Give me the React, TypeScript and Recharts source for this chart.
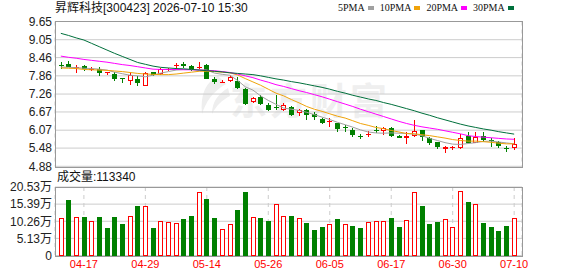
import React from 'react'
import { ComposedChart, Bar, Line, XAxis, YAxis, CartesianGrid } from 'recharts'

const dates = [
  '04-14', '04-15', '04-16', '04-17', '04-20', '04-21', '04-22', '04-23', '04-24', '04-27',
  '04-28', '04-29', '04-30', '05-06', '05-07', '05-08', '05-11', '05-12', '05-13', '05-14',
  '05-15', '05-18', '05-19', '05-20', '05-21', '05-22', '05-25', '05-26', '05-27', '05-28',
  '05-29', '06-01', '06-02', '06-03', '06-04', '06-05', '06-08', '06-09', '06-10', '06-11',
  '06-12', '06-15', '06-16', '06-17', '06-18', '06-22', '06-23', '06-24', '06-25', '06-26',
  '06-29', '06-30', '07-01', '07-02', '07-03', '07-06', '07-07', '07-08', '07-09', '07-10',
]
const opens = [
  8.22, 8.26, 8.14, 8.19, 8.06, 8.10, 7.97, 7.92, 7.79, 7.69,
  7.77, 7.52, 7.97, 7.91, 8.08, 8.19, 8.24, 8.17, 8.12, 8.22,
  7.75, 7.66, 7.69, 7.70, 7.43, 7.00, 7.16, 6.91, 6.84, 6.72,
  6.83, 6.61, 6.75, 6.59, 6.45, 6.35, 6.30, 6.19, 6.08, 5.88,
  5.92, 6.07, 6.03, 6.14, 5.89, 5.84, 5.86, 6.06, 5.82, 5.67,
  5.48, 5.51, 5.49, 5.89, 5.67, 5.88, 5.74, 5.67, 5.49, 5.49,
]
const highs = [
  8.32, 8.34, 8.21, 8.22, 8.14, 8.14, 8.00, 7.99, 7.79, 7.97,
  7.85, 8.00, 7.99, 8.13, 8.13, 8.27, 8.30, 8.21, 8.32, 8.25,
  7.82, 7.72, 7.88, 7.81, 7.45, 7.16, 7.24, 6.96, 7.22, 6.96,
  6.88, 6.78, 6.76, 6.67, 6.47, 6.47, 6.31, 6.23, 6.14, 5.95,
  6.03, 6.22, 6.17, 6.16, 5.91, 6.00, 6.39, 6.07, 5.83, 5.67,
  5.54, 5.56, 5.96, 6.02, 6.00, 6.00, 5.80, 5.70, 5.55, 5.80,
]
const lows = [
  8.10, 8.14, 7.96, 8.02, 8.02, 7.86, 7.90, 7.69, 7.61, 7.57,
  7.52, 7.52, 7.87, 7.88, 8.01, 8.07, 8.12, 8.03, 8.07, 7.75,
  7.60, 7.62, 7.66, 7.42, 6.90, 6.98, 6.89, 6.70, 6.72, 6.69,
  6.53, 6.53, 6.39, 6.42, 6.28, 6.17, 6.00, 6.00, 5.84, 5.79,
  5.84, 5.98, 5.92, 5.85, 5.80, 5.62, 5.84, 5.72, 5.59, 5.45,
  5.31, 5.42, 5.46, 5.64, 5.64, 5.69, 5.53, 5.48, 5.34, 5.42,
]
const closes = [
  8.18, 8.16, 8.16, 8.09, 8.10, 7.98, 7.98, 7.74, 7.75, 7.90,
  7.63, 7.94, 7.88, 8.07, 8.10, 8.21, 8.16, 8.08, 8.14, 7.77,
  7.65, 7.67, 7.82, 7.47, 6.93, 7.13, 6.94, 6.75, 6.83, 6.89,
  6.55, 6.72, 6.58, 6.48, 6.33, 6.36, 6.11, 6.15, 5.93, 5.87,
  5.93, 6.06, 6.14, 5.89, 5.84, 5.89, 6.04, 5.84, 5.67, 5.51,
  5.53, 5.52, 5.82, 5.67, 5.86, 5.76, 5.72, 5.54, 5.47, 5.63,
]
const volumes = [
  113300, 167200, 115400, 115400, 103400, 115400, 83300, 115400, 94400, 118400,
  148400, 148400, 83300, 103400, 100400, 98300, 109400, 118400, 191200, 170200,
  113300, 79400, 94400, 137300, 191200, 115400, 113300, 103400, 154300, 118400,
  118400, 111500, 97400, 76400, 85400, 93500, 109400, 93500, 88400, 82400,
  99500, 102500, 102500, 112400, 85400, 105500, 189400, 148400, 94400, 100400,
  108500, 84500, 192400, 160300, 153400, 97400, 85400, 73400, 88400, 113340,
]
const volUp = [
  true, false, true, false, true, false, false, false, false, true,
  false, true, false, true, true, true, false, false, true, false,
  false, true, true, false, false, true, false, false, true, true,
  false, true, false, false, false, true, false, true, false, false,
  true, true, true, false, false, true, true, false, false, false,
  true, true, true, false, true, false, false, false, false, true,
]
const ma5 = [
  8.15, 8.14, 8.13, 8.11, 8.10, 8.08, 8.05, 7.98, 7.93, 7.88,
  7.86, 7.83, 7.88, 7.95, 8.00, 8.05, 8.07, 8.07, 8.06, 8.05,
  7.95, 7.91, 7.88, 7.71, 7.50, 7.39, 7.20, 7.05, 6.92, 6.80,
  6.76, 6.72, 6.66, 6.58, 6.50, 6.42, 6.33, 6.25, 6.17, 6.08,
  6.01, 5.98, 5.97, 5.98, 5.97, 5.96, 5.94, 5.89, 5.80, 5.73,
  5.66, 5.61, 5.60, 5.63, 5.66, 5.70, 5.71, 5.68, 5.65, 5.62,
]
const ma10 = [
  8.12, 8.11, 8.10, 8.07, 8.06, 8.05, 8.04, 8.02, 8.00, 7.97,
  7.94, 7.92, 7.91, 7.90, 7.90, 7.92, 7.95, 7.98, 8.01, 8.01,
  8.00, 7.98, 7.96, 7.89, 7.77, 7.66, 7.55, 7.42, 7.29, 7.20,
  7.08, 6.97, 6.85, 6.76, 6.69, 6.61, 6.53, 6.47, 6.38, 6.29,
  6.23, 6.16, 6.12, 6.06, 6.01, 5.96, 5.95, 5.92, 5.89, 5.85,
  5.81, 5.76, 5.73, 5.71, 5.71, 5.69, 5.67, 5.64, 5.62, 5.62,
]
const ma20 = [
  8.51, 8.47, 8.44, 8.40, 8.37, 8.34, 8.31, 8.27, 8.23, 8.20,
  8.16, 8.12, 8.08, 8.07, 8.07, 8.07, 8.06, 8.06, 8.05, 8.04,
  8.03, 8.00, 7.97, 7.92, 7.86, 7.80, 7.72, 7.65, 7.57, 7.51,
  7.44, 7.37, 7.31, 7.24, 7.17, 7.09, 7.01, 6.93, 6.85, 6.76,
  6.68, 6.60, 6.52, 6.44, 6.36, 6.29, 6.23, 6.18, 6.14, 6.10,
  6.05, 6.00, 5.95, 5.89, 5.86, 5.84, 5.82, 5.80, 5.78, 5.77,
]
const ma30 = [
  9.26, 9.19, 9.11, 9.04, 8.93, 8.82, 8.71, 8.60, 8.50, 8.40,
  8.30, 8.24, 8.18, 8.14, 8.12, 8.10, 8.09, 8.07, 8.05, 8.03,
  8.01, 7.99, 7.96, 7.94, 7.92, 7.90, 7.86, 7.81, 7.76, 7.72,
  7.67, 7.63, 7.58, 7.53, 7.48, 7.42, 7.35, 7.29, 7.22, 7.16,
  7.10, 7.05, 6.98, 6.92, 6.85, 6.78, 6.71, 6.63, 6.56, 6.48,
  6.41, 6.34, 6.27, 6.21, 6.16, 6.11, 6.07, 6.02, 5.98, 5.94,
]

const priceTicks = [4.88, 5.48, 6.07, 6.67, 7.26, 7.86, 8.46, 9.05, 9.65]
const volTicks = [0, 51325, 102650, 153975, 205300]
const volTickLabels = ['0', '5.13万', '10.26万', '15.39万', '20.53万']
const dateTicks = ['04-17', '04-29', '05-14', '05-26', '06-05', '06-17', '06-30', '07-10']
const maKeys = ['ma5', 'ma10', 'ma20', 'ma30']
const maNames = ['5PMA', '10PMA', '20PMA', '30PMA']
const maColors = ['#a0a0a0', '#f0a30a', '#ff00ff', '#00703c']

const title = '昇辉科技[300423] 2026-07-10 15:30'
const volTitle = '成交量:113340'

const rows = dates.map((date, i) => ({
  date,
  open: opens[i],
  high: highs[i],
  low: lows[i],
  close: closes[i],
  vol: volumes[i],
  volUp: volUp[i],
  ma5: ma5[i],
  ma10: ma10[i],
  ma20: ma20[i],
  ma30: ma30[i],
}))

const FONT = '"Liberation Sans", "Noto Sans CJK SC", sans-serif'
const UP = '#ff0000'
const DOWN = '#008000'
const GRID = '#cccccc'
const FRAME = '#999999'

const W = 578
const LEFT = 55
const RIGHT = 56
const PAD = { left: 2, right: 4 }

// candle drawn inside the [low, high] range bar
function Candle(props: any) {
  const { x, y, width, height, payload } = props
  const { open, close, high, low } = payload
  const k = height / (high - low)
  const c = Math.round(x + width / 2)
  const yO = y + (high - open) * k
  const yC = y + (high - close) * k
  const up = close >= open
  const color = up ? UP : DOWN
  const top = Math.round(Math.min(yO, yC))
  const h = Math.round(Math.abs(yO - yC))
  return (
    <g>
      <line x1={c + 0.5} x2={c + 0.5} y1={Math.round(y)} y2={Math.round(y + height)} stroke={color} />
      {h < 2 ? (
        <line x1={c - 2} x2={c + 3} y1={top + 0.5} y2={top + 0.5} stroke={color} />
      ) : up ? (
        <rect x={c - 1.5} y={top + 0.5} width={4} height={h - 1} fill="#fff" stroke={color} />
      ) : (
        <rect x={c - 2} y={top} width={5} height={h} fill={color} />
      )}
    </g>
  )
}

function VolBar(props: any) {
  const { x, y, width, height, payload } = props
  const c = Math.round(x + width / 2)
  const top = Math.round(y)
  const bottom = Math.round(y + height)
  if (payload.volUp) {
    return <rect x={c - 1.5} y={top + 0.5} width={4} height={bottom - top - 1} fill="#fff" stroke={UP} />
  }
  return <rect x={c - 2} y={top} width={5} height={bottom - top} fill={DOWN} />
}

const tickStyle = { fill: '#222', fontSize: 12, fontFamily: FONT }

export default function App() {
  return (
    <div style={{ position: 'absolute', left: 0, top: 0, width: W, height: 276, background: '#fff', fontFamily: FONT, overflow: 'hidden' }}>
      <div style={{ position: 'absolute', left: 55, top: 1, fontSize: 12, lineHeight: '14px', color: '#111', whiteSpace: 'nowrap' }}>{title}</div>
      <div style={{ position: 'absolute', left: 338, top: 2, display: 'flex', alignItems: 'center', fontSize: 10, lineHeight: '12px', color: '#111', fontFamily: '"Liberation Serif", serif' }}>
        {maNames.map((n, i) => (
          <span key={n} style={{ display: 'flex', alignItems: 'center', marginRight: 6 }}>
            <span>{n}</span>
            <span style={{ display: 'inline-block', width: 6, height: 4, background: maColors[i], marginLeft: 3 }} />
          </span>
        ))}
      </div>
      {/* faint watermark */}
      <svg style={{ position: 'absolute', left: 196, top: 74 }} width={34} height={42}>
        <path d="M22 2 C10 8 4 20 6 40 C10 28 16 18 30 10 Z" fill="#eeeeee" />
        <path d="M32 14 C22 20 16 28 16 40 C20 32 26 26 34 22 Z" fill="#eeeeee" />
      </svg>
      <div style={{ position: 'absolute', left: 230, top: 72, fontSize: 37, fontWeight: 700, color: '#efefef', letterSpacing: 3, fontFamily: '"Noto Sans CJK SC", sans-serif', whiteSpace: 'nowrap' }}>东方财富</div>

      <div style={{ position: 'absolute', left: 0, top: 0 }}>
        <ComposedChart width={W} height={176} data={rows} margin={{ top: 21.5, right: RIGHT, bottom: 9.7, left: 8 }}>
          <CartesianGrid horizontal vertical={false} stroke={GRID} />
          <CartesianGrid horizontal={false} vertical stroke={GRID} strokeDasharray="4 4" />
          <XAxis dataKey="date" ticks={dateTicks} interval={0} tick={false} axisLine={false} tickLine={false} height={0} padding={PAD} />
          <YAxis
            type="number"
            domain={[4.88, 9.65]}
            ticks={priceTicks}
            interval={0}
            width={47}
            tickSize={0}
            tickMargin={3}
            tickLine={false}
            axisLine={false}
            tick={tickStyle}
            tickFormatter={(v: number) => v.toFixed(2)}
          />
          <Bar dataKey={(d: any) => [d.low, d.high]} barSize={5} shape={(p: any) => <Candle {...p} />} isAnimationActive={false} />
          {maKeys.map((k, i) => (
            <Line key={k} dataKey={k} type="linear" stroke={maColors[i]} strokeWidth={1} dot={false} activeDot={false} isAnimationActive={false} />
          ))}
        </ComposedChart>
      </div>
      <div style={{ position: 'absolute', left: LEFT, top: 21, width: W - LEFT - RIGHT - 1, height: 145, border: `1px solid ${FRAME}`, pointerEvents: 'none' }} />

      <div style={{ position: 'absolute', left: 57, top: 170, fontSize: 12, lineHeight: '14px', color: '#111', whiteSpace: 'nowrap' }}>{volTitle}</div>
      <div style={{ position: 'absolute', left: 0, top: 170 }}>
        <ComposedChart width={W} height={106} data={rows} margin={{ top: 17, right: RIGHT, bottom: 2.5, left: 8 }}>
          <CartesianGrid horizontal vertical={false} stroke={GRID} />
          <CartesianGrid horizontal={false} vertical stroke={GRID} strokeDasharray="4 4" />
          <XAxis
            dataKey="date"
            ticks={dateTicks}
            interval={0}
            height={18}
            tickSize={0}
            tickMargin={5}
            tickLine={false}
            axisLine={false}
            padding={PAD}
            tick={{ fill: UP, fontSize: 11, fontFamily: FONT }}
          />
          <YAxis
            type="number"
            domain={[0, 205300]}
            ticks={volTicks}
            interval={0}
            width={47}
            tickSize={0}
            tickMargin={3}
            tickLine={false}
            axisLine={false}
            tick={tickStyle}
            tickFormatter={(v: number) => volTickLabels[volTicks.indexOf(v)]}
          />
          <Bar dataKey="vol" barSize={5} shape={(p: any) => <VolBar {...p} />} isAnimationActive={false} />
        </ComposedChart>
      </div>
      <div style={{ position: 'absolute', left: LEFT, top: 187, width: W - LEFT - RIGHT - 1, height: 68, border: `1px solid ${FRAME}`, pointerEvents: 'none' }} />
    </div>
  )
}
